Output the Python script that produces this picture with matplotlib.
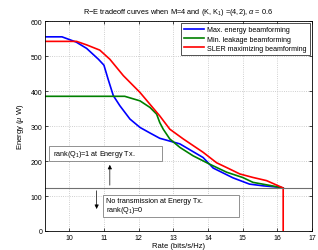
import matplotlib
matplotlib.use("Agg")
import matplotlib.pyplot as plt
from matplotlib.patches import Rectangle

plt.rcParams['font.family'] = ['Liberation Sans', 'DejaVu Sans']
plt.rcParams['mathtext.fontset'] = 'custom'
plt.rcParams['mathtext.rm'] = 'Liberation Sans'
plt.rcParams['mathtext.it'] = 'Liberation Sans:italic'

# Data
blue_rate = [9.3, 9.79, 10.2, 10.5, 10.84, 11.0, 11.12, 11.27, 11.46, 11.75, 12.04, 12.33, 12.61,
             13.19, 13.86, 14.15, 14.72, 15.2, 15.6, 16.07, 16.17]
blue_energy = [555, 555, 540, 522, 491, 474, 434, 387, 358, 320, 296, 280, 265,
               249, 210, 180, 152, 134, 129, 125, 123]

green_rate = [9.3, 11.6, 12.04, 12.33, 12.52, 12.61, 12.71, 12.9, 13.19, 13.57, 14.05, 14.54,
              15.0, 15.3, 15.8, 16.17]
green_energy = [385, 385, 372, 353, 334, 310, 291, 263, 239, 215, 191, 168,
                153, 139, 130, 123]

red_rate = [9.3, 10.21, 10.5, 10.88, 11.17, 11.56, 12.04, 12.61, 12.9, 13.29, 13.86, 14.25,
            14.63, 14.92, 15.3, 15.69, 16.17, 16.17]
red_energy = [542, 542, 532, 517, 491, 444, 396, 329, 291, 263, 225, 195,
              177, 163, 153, 144, 123, 0]

threshold = 123
x_ticks = [10, 11, 12, 13, 14, 15, 16, 17]
y_ticks = [0, 100, 200, 300, 400, 500, 600]
labels = ["Max. energy beamforming", "Min. leakage beamforming", "SLER maximizing beamforming"]

fig = plt.figure(figsize=(3.18, 2.51), dpi=100)
ax = fig.add_axes([0.1415, 0.0757, 0.8395, 0.8363])

ax.plot(blue_rate, blue_energy, color='#0000ff', lw=1.2, label=labels[0])
ax.plot(green_rate, green_energy, color='#008000', lw=1.2, label=labels[1])
ax.plot(red_rate, red_energy, color='#ff0000', lw=1.2, label=labels[2])
ax.axhline(threshold, color='#707070', lw=0.8)

ax.set_xlim(9.3, 17)
ax.set_ylim(0, 600)
ax.set_xticks(x_ticks)
ax.set_yticks(y_ticks)
ax.tick_params(direction='in', labelsize=5, length=2, width=0.5, pad=2, top=True, right=True)
ax.grid(True, linestyle=':', color='#c0c0c0', lw=0.6)
for s in ax.spines.values():
    s.set_linewidth(0.6)

ax.set_title(r"R$-$E tradeoff curves when M=4 and (K, K$_1$) =(4,2), $\alpha$ = 0.6", fontsize=5.3, pad=6)
ax.set_xlabel("Rate (bits/s/Hz)", fontsize=5.5, labelpad=1)
ax.set_ylabel(r"Energy ($\mu$ W)", fontsize=5.5, labelpad=3)

leg = ax.legend(loc='upper right', fontsize=5.1, frameon=True, fancybox=False, edgecolor='black',
                handlelength=2.8, borderaxespad=0.3, labelspacing=0.3, borderpad=0.45, handletextpad=0.5)
leg.get_frame().set_linewidth(0.6)

# annotation boxes
ax.add_patch(Rectangle((9.42, 200), 12.67 - 9.42, 243 - 200, fc='white', ec='#808080', lw=0.6, zorder=3))
ax.text(9.52, 222, r"rank(Q$_1$)=1 at Energy Tx.", fontsize=5.2, va='center', ha='left', zorder=4)
ax.add_patch(Rectangle((10.98, 39), 14.9 - 10.98, 104 - 39, fc='white', ec='#808080', lw=0.6, zorder=3))
ax.text(11.06, 72, "No transmission at Energy Tx.\n" + r"rank(Q$_1$)=0", fontsize=5.2, va='center', ha='left',
        linespacing=0.95, zorder=4)
ax.annotate("", xy=(11.17, 197), xytext=(11.17, threshold),
            arrowprops=dict(arrowstyle='-|>', color='black', lw=0.5, mutation_scale=6))
ax.annotate("", xy=(10.79, 55), xytext=(10.79, threshold),
            arrowprops=dict(arrowstyle='-|>', color='black', lw=0.5, mutation_scale=6))

fig.savefig("out.png", dpi=100)
